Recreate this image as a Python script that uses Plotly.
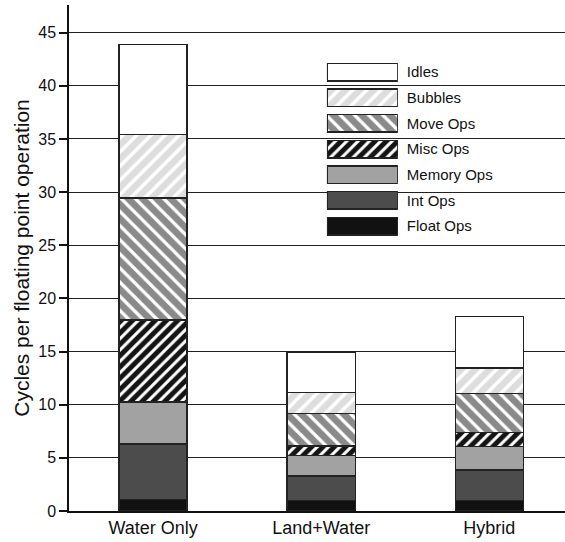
import plotly.graph_objects as go

categories = ["Water Only", "Land+Water", "Hybrid"]
series_names = ["Float Ops", "Int Ops", "Memory Ops", "Misc Ops", "Move Ops", "Bubbles", "Idles"]
float_ops = [1.1, 1.0, 1.0]
int_ops = [5.2, 2.3, 2.85]
memory_ops = [3.95, 1.9, 2.2]
misc_ops = [7.7, 0.9, 1.35]
move_ops = [11.5, 3.05, 3.65]
bubbles = [5.95, 2.0, 2.4]
idles = [8.5, 3.8, 4.85]
values = [float_ops, int_ops, memory_ops, misc_ops, move_ops, bubbles, idles]

y_ticks = [0, 5, 10, 15, 20, 25, 30, 35, 40, 45]

styles = {
    "Float Ops": dict(bg="#111111", shape=""),
    "Int Ops": dict(bg="#4c4c4c", shape=""),
    "Memory Ops": dict(bg="#a2a2a2", shape=""),
    "Misc Ops": dict(bg="#141414", shape="/", size=8, sol=0.38),
    "Move Ops": dict(bg="#8a8a8a", shape="\\", size=10, sol=0.33),
    "Bubbles": dict(bg="#dddddd", shape="/", size=10, sol=0.35),
    "Idles": dict(bg="#ffffff", shape=""),
}

def marker_for(name):
    s = styles[name]
    m = dict(color=s["bg"], line=dict(color="#222222", width=1.5))
    if s["shape"]:
        m["pattern"] = dict(shape=s["shape"], fillmode="replace", bgcolor=s["bg"],
                            fgcolor="#ffffff", size=s["size"], solidity=s["sol"])
    return m

fig = go.Figure()
for name, vals in zip(series_names, values):
    fig.add_trace(go.Bar(x=categories, y=vals, name=name, width=0.405,
                         marker=marker_for(name), showlegend=False,
                         xaxis="x", yaxis="y"))

# Legend drawn as an inset of swatch bars
legend_order = list(reversed(series_names))
for name in legend_order:
    fig.add_trace(go.Bar(x=[1], y=[name], orientation="h", width=0.68,
                         marker=marker_for(name), showlegend=False,
                         xaxis="x2", yaxis="y2", hoverinfo="skip"))

FONT = "Liberation Sans, Arial, Helvetica, sans-serif"
fig.update_layout(
    width=565, height=542,
    margin=dict(l=69, r=0, t=5, b=31),
    paper_bgcolor="white", plot_bgcolor="rgba(0,0,0,0)",
    barmode="stack",
    font=dict(family=FONT, color="#111111"),
    xaxis=dict(domain=[0, 1], range=[-0.5, 2.45], showline=True, linecolor="#111111",
               linewidth=1.5, ticks="", tickfont=dict(size=18), showgrid=False,
               zeroline=False, fixedrange=True),
    yaxis=dict(range=[0, 47.6], tickvals=y_ticks, showline=True, linecolor="#111111",
               linewidth=1.5, ticks="outside", ticklen=8, tickwidth=1.5, tickcolor="#111111",
               tickfont=dict(size=16), showgrid=True, gridcolor="#222222", gridwidth=1.3,
               zeroline=False,
               title=dict(text="Cycles per floating point operation", font=dict(size=21),
                          standoff=3)),
    xaxis2=dict(domain=[0.520, 0.663], anchor="y2", range=[0, 1], visible=False,
                fixedrange=True),
    yaxis2=dict(domain=[0.5378, 0.8929], anchor="x2", side="right",
                categoryorder="array", categoryarray=list(reversed(legend_order)),
                showgrid=False, showline=False, zeroline=False, ticks="",
                tickfont=dict(size=15), ticklabelstandoff=8, fixedrange=True),
)

fig.write_html("out.html")
